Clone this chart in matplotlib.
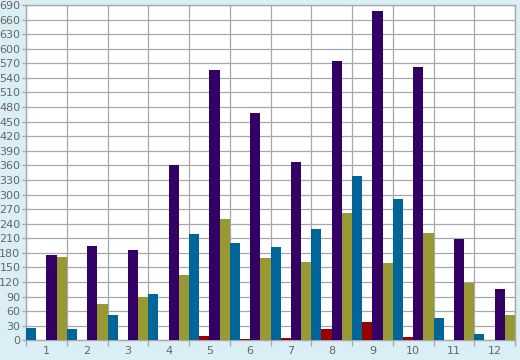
import numpy as np
import matplotlib
matplotlib.use("Agg")
import matplotlib.pyplot as plt

months = [str(i) for i in range(1, 13)]
blue   = [26, 23, 52, 95, 219, 200, 192, 229, 338, 291, 46, 13]
red    = [1, 1, 1, 1, 9, 3, 5, 23, 38, 7, 1, 1]
purple = [175, 194, 186, 361, 556, 468, 367, 575, 678, 562, 208, 106]
olive  = [171, 75, 90, 134, 250, 169, 161, 262, 159, 221, 118, 52]

series = [(blue, "#006699"), (red, "#990000"), (purple, "#330066"), (olive, "#999933")]
bg = "#daeef6"
grid = "#a8a8a8"
txt = "#666666"

fig = plt.figure(figsize=(5.2, 3.6), dpi=100, facecolor=bg)
ax = fig.add_axes([26 / 520, 19.7 / 360, 489 / 520, 335.3 / 360])
ax.set_facecolor("white")

x = np.arange(len(months))
w = 0.25
for k, (vals, col) in enumerate(series):
    ax.bar(x + k * w, vals, width=w, align="edge", color=col, zorder=3, linewidth=0)

ax.set_xlim(0, 12)
ax.set_ylim(0, 690)
ax.set_yticks(np.arange(0, 691, 30))
ax.set_xticks(np.arange(0, 13))
ax.set_xticklabels([])
ax.set_xticks(x + 0.5, minor=True)
ax.set_xticklabels(months, minor=True)
ax.tick_params(axis="x", which="minor", length=0, pad=4, labelsize=8, labelcolor=txt)
ax.tick_params(axis="x", which="major", length=4, color=grid, width=1)
ax.tick_params(axis="y", length=3, color=grid, width=1, pad=1, labelsize=8, labelcolor=txt)
ax.grid(True, which="major", color=grid, linewidth=0.9, zorder=0)
for s in ax.spines.values():
    s.set_color(grid)
    s.set_linewidth(1)

fig.savefig("out.png", dpi=100, facecolor=bg)
